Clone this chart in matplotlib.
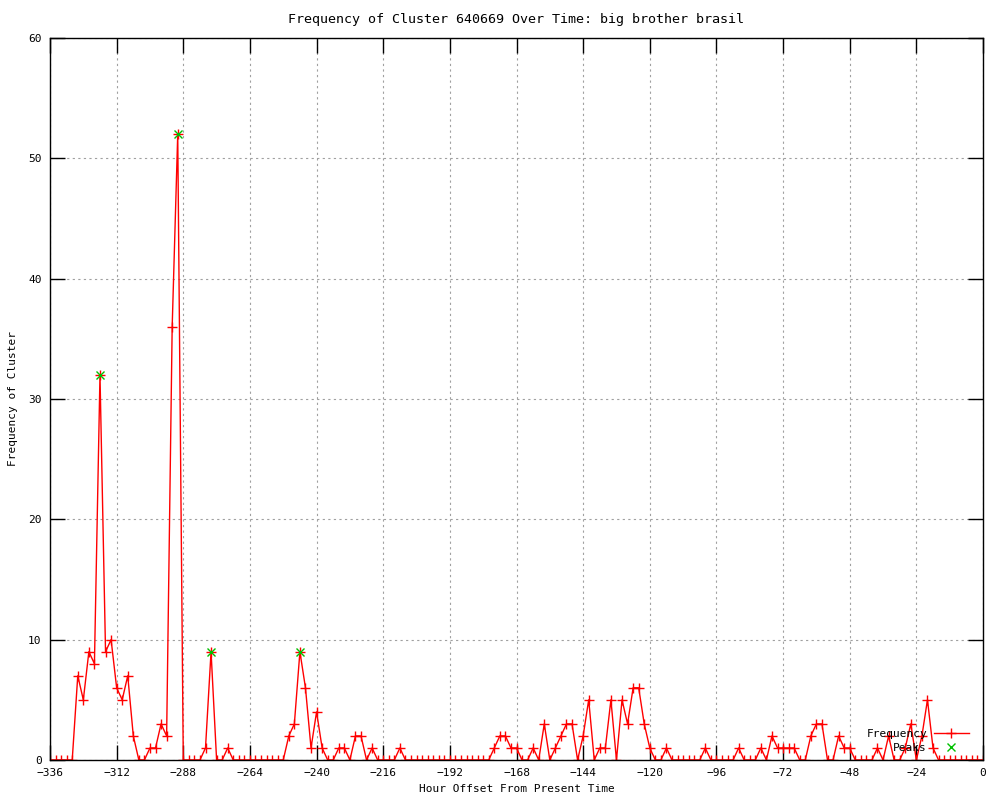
import numpy as np
from matplotlib import pyplot as plt

# hour offsets, one sample every 2 hours
hours = np.arange(-336, 1, 2)

frequency = [
    0, 0, 0, 0, 0, 7, 5, 9, 8, 32,
    9, 10, 6, 5, 7, 2, 0, 0, 1, 1,
    3, 2, 36, 52, 0, 0, 0, 0, 1, 9,
    0, 0, 1, 0, 0, 0, 0, 0, 0, 0,
    0, 0, 0, 2, 3, 9, 6, 1, 4, 1,
    0, 0, 1, 1, 0, 2, 2, 0, 1, 0,
    0, 0, 0, 1, 0, 0, 0, 0, 0, 0,
    0, 0, 0, 0, 0, 0, 0, 0, 0, 0,
    1, 2, 2, 1, 1, 0, 0, 1, 0, 3,
    0, 1, 2, 3, 3, 0, 2, 5, 0, 1,
    1, 5, 0, 5, 3, 6, 6, 3, 1, 0,
    0, 1, 0, 0, 0, 0, 0, 0, 1, 0,
    0, 0, 0, 0, 1, 0, 0, 0, 1, 0,
    2, 1, 1, 1, 1, 0, 0, 2, 3, 3,
    0, 0, 2, 1, 1, 0, 0, 0, 0, 1,
    0, 2, 0, 0, 1, 3, 0, 2, 5, 1,
    0, 0, 0, 0, 0, 0, 0, 0, 0,
]

peakHours = [-318, -290, -278, -246]
peakValues = [32, 52, 9, 9]

xTicks = list(range(-336, 1, 24))
yTicks = list(range(0, 61, 10))

plt.rcParams['font.family'] = 'DejaVu Sans Mono'
plt.rcParams['font.size'] = 8

fig = plt.figure(figsize=(10, 8), dpi=100)
ax = fig.add_axes([0.05, 0.05, 0.933, 0.9025])

ax.plot(hours, frequency, color="red", linewidth=1, marker="+", markersize=7,
        markeredgewidth=1, label="Frequency")
ax.plot(peakHours, peakValues, color="#00c000", linestyle="none", marker="x",
        markersize=6, markeredgewidth=1, label="Peaks")

ax.set_xlim(-336, 0)
ax.set_ylim(0, 60)
ax.set_xticks(xTicks)
ax.set_yticks(yTicks)
ax.tick_params(direction="in", length=11, width=1, top=True, right=True, pad=6)
ax.grid(True, linestyle=(0, (2, 3)), color="#a0a0a0", linewidth=0.8)
ax.set_axisbelow(True)
for spine in ax.spines.values():
    spine.set_linewidth(1)

ax.set_title("Frequency of Cluster 640669 Over Time: big brother brasil", pad=11)
ax.set_xlabel("Hour Offset From Present Time", labelpad=4)
ax.set_ylabel("Frequency of Cluster")
ax.yaxis.set_label_coords(-0.034, 0.5)

ax.legend(loc="lower right", bbox_to_anchor=(0.99, 0.004), frameon=False,
          markerfirst=False, handlelength=3.2, handletextpad=0.6,
          labelspacing=0.3, borderaxespad=0)

fig.savefig("out.png", dpi=100)
